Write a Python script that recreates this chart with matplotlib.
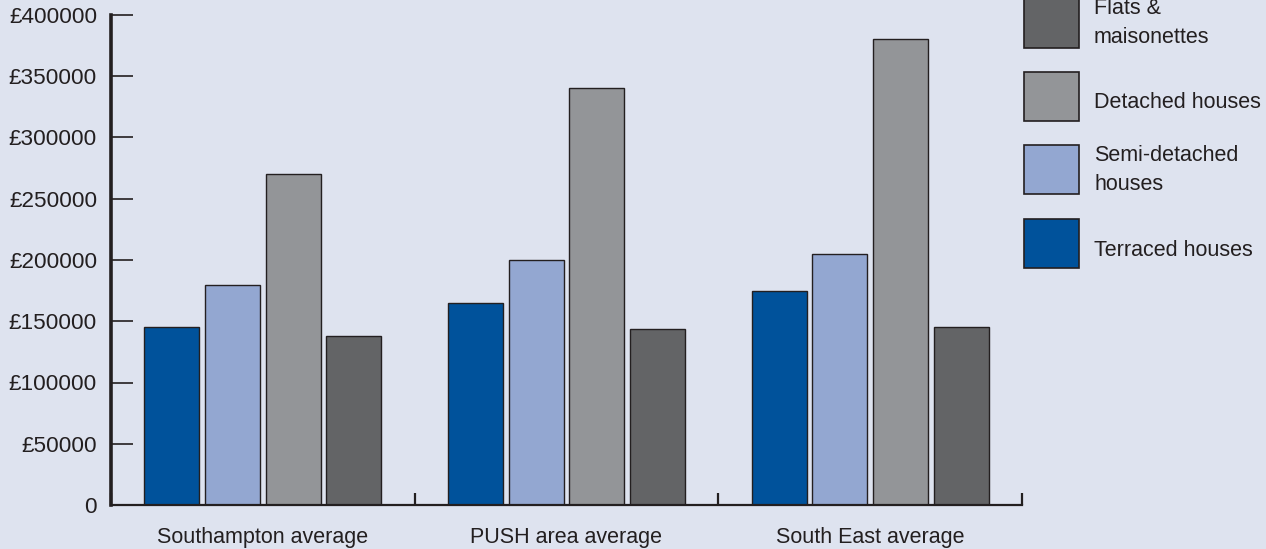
import numpy as np
import matplotlib.pyplot as plt
from matplotlib.patches import Rectangle
from matplotlib.ticker import FuncFormatter, FixedLocator

# average house prices by property type
areas = ["Southampton average", "PUSH area average", "South East average"]
series_names = ["Terraced houses", "Semi-detached houses", "Detached houses", "Flats & maisonettes"]
terraced = [145000, 165000, 175000]
semi_detached = [180000, 200000, 205000]
detached = [270000, 340000, 380000]
flats = [138000, 144000, 145000]

legend_labels = ["Flats &\nmaisonettes", "Detached houses", "Semi-detached\nhouses", "Terraced houses"]
colours = ["#00529b", "#93a7d1", "#939598", "#636466"]

BG = "#dee3ef"
INK = "#231f20"
FONT = ["Liberation Sans", "DejaVu Sans"]
FS = 15.5

plt.rcParams["font.family"] = FONT
plt.rcParams["text.color"] = INK

W, H = 1266, 549
fig = plt.figure(figsize=(W / 100, H / 100), dpi=100, facecolor=BG)

# axes box in pixels: x 111..1022, y 15..505
ax = fig.add_axes([111 / W, 1 - 505 / H, (1022 - 111) / W, (505 - 15) / H])
ax.set_facecolor(BG)

values = [terraced, semi_detached, detached, flats]
centres = np.arange(len(areas)) + 0.5
step = 0.2
width = 0.181
for i, (vals, col) in enumerate(zip(values, colours)):
    ax.bar(centres + (i - 1.5) * step, vals, width=width, color=col,
           edgecolor=INK, linewidth=1.0, label=series_names[i], zorder=2)

ax.set_xlim(0, len(areas))
ax.set_ylim(0, 400000)

for side in ("top", "right"):
    ax.spines[side].set_visible(False)
ax.spines["left"].set_linewidth(2.6)
ax.spines["bottom"].set_linewidth(1.6)
ax.spines["left"].set_color(INK)
ax.spines["bottom"].set_color(INK)

ax.set_yticks(np.arange(0, 400001, 50000))
ax.yaxis.set_major_formatter(FuncFormatter(lambda v, p: "0" if v == 0 else f"£{int(v)}"))
ax.tick_params(axis="y", direction="in", length=16, width=1.2, color=INK,
               labelsize=16.2, pad=10, labelcolor=INK)
for lbl in ax.get_yticklabels():
    lbl.set_va("center_baseline")

# boundary ticks between groups, category names on minor ticks
ax.xaxis.set_major_locator(FixedLocator(np.arange(len(areas) + 1)))
ax.xaxis.set_minor_locator(FixedLocator(centres))
ax.xaxis.set_major_formatter(FuncFormatter(lambda v, p: ""))
ax.set_xticklabels(areas, minor=True)
ax.tick_params(axis="x", which="major", direction="in", length=9, width=1.6, color=INK)
ax.tick_params(axis="x", which="minor", length=0, pad=16, labelsize=FS, labelcolor=INK)

# legend on the right, drawn as boxes with labels beside them
box_x, box_w, box_h = 1024, 55, 49
box_tops = [-1, 72, 145, 219]
text_centres = [23, 103, 170, 250]
for lab, col, top, tc in zip(legend_labels, colours[::-1], box_tops, text_centres):
    fig.add_artist(Rectangle((box_x / W, 1 - (top + box_h) / H), box_w / W, box_h / H,
                             transform=fig.transFigure, facecolor=col,
                             edgecolor=INK, linewidth=1.2))
    fig.text(1094 / W, 1 - tc / H, lab, ha="left", va="center", fontsize=FS,
             color=INK, linespacing=1.45)

fig.savefig("out.png", dpi=100, facecolor=BG)
